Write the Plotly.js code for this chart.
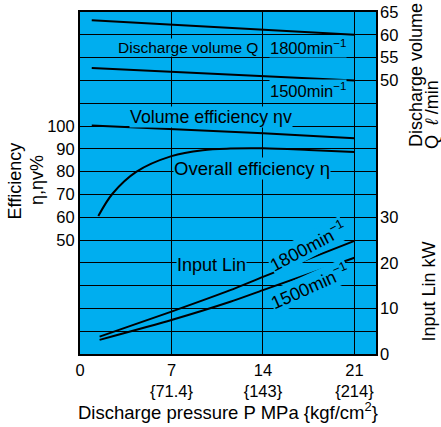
<!DOCTYPE html>
<html>
<head>
<meta charset="utf-8">
<script src="https://cdn.plot.ly/plotly-3.0.1.min.js"></script>
<style>html,body{margin:0;padding:0;background:#fff;}#chart{width:441px;height:427px;}</style>
</head>
<body>
<div id="chart"></div>
<script>
// Discharge pressure P (MPa)
const pressureQ = [0.9, 7, 14, 21];
const q1800 = [63.2, 62.2, 61.1, 60.0];        // l/min
const q1500 = [52.7, 51.9, 50.9, 50.0];        // l/min
const pressureEtaV = [0.9, 7, 14, 21];
const etaV = [100.2, 98.7, 96.8, 94.6];        // %
const pressureEta = [1.4, 2.5, 4.3, 7, 9.4, 11.5, 14, 17.5, 21];
const eta = [60.5, 70.4, 79.9, 86.8, 89.4, 90.1, 90.2, 89.5, 88.6]; // %
const pressureLin = [1.5, 7, 11.5, 14, 21];
const lin1800 = [3.8, 9.3, 14.0, 16.9, 24.8];  // kW
const lin1500 = [3.1, 7.45, 11.45, 14.0, 21.1]; // kW

const xTickVals = [0, 7, 14, 21];
const xTickText = ['0', '7<br>{71.4}', '14<br>{143}', '21<br>{214}'];
const effTickVals = [50, 60, 70, 80, 90, 100];
const qTickVals = [50, 55, 60, 65];
const linTickVals = [0, 10, 20, 30];

const FONT = 'Liberation Sans, Arial, sans-serif';
const BG = 'rgb(0,174,239)';
const line = {color: '#000', width: 2};

const traces = [
  {x: pressureQ, y: q1800, yaxis: 'y2', mode: 'lines', line: line},
  {x: pressureQ, y: q1500, yaxis: 'y2', mode: 'lines', line: line},
  {x: pressureEtaV, y: etaV, yaxis: 'y', mode: 'lines', line: line},
  {x: pressureEta, y: eta, yaxis: 'y', mode: 'lines', line: Object.assign({shape: 'spline', smoothing: 1}, line)},
  {x: pressureLin, y: lin1800, yaxis: 'y3', mode: 'lines', line: Object.assign({shape: 'spline', smoothing: 0.6}, line)},
  {x: pressureLin, y: lin1500, yaxis: 'y3', mode: 'lines', line: Object.assign({shape: 'spline', smoothing: 0.6}, line)}
];

function lab(text, x, y, angle, size) {
  return {text: text, x: x, y: y, xref: 'x', yref: 'y', showarrow: false,
    font: {family: FONT, size: size || 18, color: '#000'}, bgcolor: BG, borderpad: 0,
    textangle: angle || 0, xanchor: 'center', yanchor: 'middle'};
}
function outer(text, x, y, angle, size) {
  return {text: text, x: x, y: y, xref: 'paper', yref: 'paper', showarrow: false,
    font: {family: FONT, size: size || 18, color: '#000'},
    textangle: angle || 0, xanchor: 'center', yanchor: 'middle'};
}

const layout = {
  width: 441, height: 427,
  margin: {l: 80, r: 65, t: 12, b: 73},
  paper_bgcolor: '#fff', plot_bgcolor: BG,
  showlegend: false,
  font: {family: FONT, size: 16, color: '#000'},
  xaxis: {range: [0, 22.65], tickvals: xTickVals, ticktext: xTickText,
    showgrid: true, gridcolor: '#000', gridwidth: 1, zeroline: false,
    showline: true, linecolor: '#000', linewidth: 2, mirror: true, ticks: '',
    tickfont: {size: 16.5}},
  yaxis: {range: [0, 150], tickvals: effTickVals,
    showgrid: true, gridcolor: '#000', gridwidth: 1, zeroline: false,
    minor: {tick0: 0, dtick: 10, showgrid: true, gridcolor: '#000', gridwidth: 1, ticks: ''},
    showline: true, linecolor: '#000', linewidth: 2, mirror: true, ticks: '',
    tickfont: {size: 16.5}},
  yaxis2: {range: [-10, 65], tickvals: qTickVals, overlaying: 'y', side: 'right',
    showgrid: false, zeroline: false, ticks: '', tickfont: {size: 16.5}, ticklabelstandoff: 3},
  yaxis3: {range: [0, 75], tickvals: linTickVals, overlaying: 'y', side: 'right',
    showgrid: false, zeroline: false, ticks: '', tickfont: {size: 16.5}, ticklabelstandoff: 3},
  annotations: [
    lab('Discharge volume Q', 8.23, 134.6, 0, 15.5),
    lab('1800min<sup>−1</sup>', 17.42, 134.8, 0, 16.5),
    lab('1500min<sup>−1</sup>', 17.42, 115.7, 0, 16.5),
    lab('Volume efficiency ηv', 10.05, 103.9, 0, 17.8),
    lab('Overall efficiency η', 13.15, 81.4, 0, 18.5),
    lab('Input Lin', 10.08, 39, 0, 18),
    lab('1800min<sup>−1</sup>', 17.38, 47.3, -28, 18),
    lab('1500min<sup>−1</sup>', 17.53, 29.8, -24, 18),
    outer('Efficiency', -0.2179, 0.5058, -90),
    outer('η,ηv%', -0.1453, 0.5088, -90),
    outer('Discharge volume', 1.1351, 0.8158, -90),
    outer('Q  <i>ℓ</i> /min', 1.1892, 0.6988, -90),
    outer('Input Lin kW', 1.179, 0.1827, -90),
    outer('Discharge pressure P MPa {kgf/cm<sup>2</sup>}', 0.5, -0.166, 0, 18.5)
  ]
};

Plotly.newPlot('chart', traces, layout, {displayModeBar: false, staticPlot: true});
</script>
</body>
</html>
